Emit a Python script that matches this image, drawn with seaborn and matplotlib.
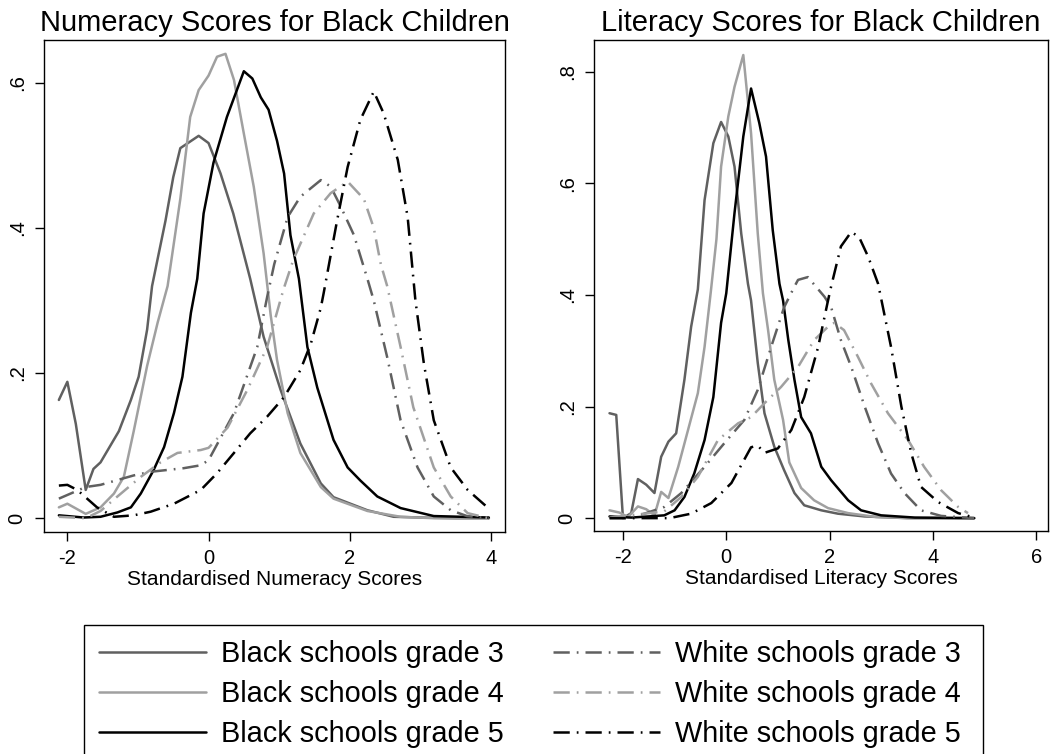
import pandas as pd
import matplotlib
matplotlib.use("Agg")
import matplotlib.pyplot as plt
from matplotlib.patches import Rectangle
import seaborn as sns

# ---- data (kernel density estimates) ----
series_labels = ["Black schools grade 3", "Black schools grade 4", "Black schools grade 5",
                 "White schools grade 3", "White schools grade 4", "White schools grade 5"]

# Numeracy
num_b3_x = [-2.12, -2.0, -1.88, -1.74, -1.63, -1.53, -1.27, -1.1, -0.99, -0.87, -0.8, -0.61, -0.5, -0.4,
            -0.14, 0.0, 0.17, 0.35, 0.59, 0.78, 1.02, 1.3, 1.59, 1.77, 2.25, 2.62, 3.0, 3.5, 3.97]
num_b3_y = [0.163, 0.188, 0.13, 0.039, 0.068, 0.077, 0.12, 0.163, 0.195, 0.26, 0.32, 0.41, 0.47, 0.51,
            0.527, 0.517, 0.475, 0.42, 0.33, 0.25, 0.177, 0.103, 0.048, 0.029, 0.011, 0.002, 0.001, 0.0, 0.0]
num_b4_x = [-2.12, -2.0, -1.74, -1.53, -1.34, -1.2, -1.06, -0.87, -0.72, -0.58, -0.4, -0.26, -0.14, 0.0,
            0.12, 0.24, 0.36, 0.5, 0.64, 0.78, 0.88, 0.97, 1.12, 1.3, 1.59, 1.77, 2.25, 2.72, 3.2, 3.97]
num_b4_y = [0.015, 0.02, 0.006, 0.015, 0.034, 0.057, 0.12, 0.21, 0.27, 0.32, 0.44, 0.553, 0.59, 0.61,
            0.636, 0.64, 0.604, 0.53, 0.457, 0.365, 0.28, 0.218, 0.145, 0.09, 0.043, 0.027, 0.01, 0.002, 0.0, 0.0]
num_b5_x = [-2.12, -1.77, -1.53, -1.29, -1.1, -0.96, -0.78, -0.63, -0.49, -0.37, -0.25, -0.16, -0.07, 0.07,
            0.26, 0.5, 0.62, 0.74, 0.85, 0.97, 1.07, 1.16, 1.28, 1.4, 1.54, 1.77, 1.97, 2.15, 2.39, 2.72, 3.19, 3.97]
num_b5_y = [0.004, 0.001, 0.002, 0.008, 0.015, 0.034, 0.066, 0.098, 0.145, 0.195, 0.283, 0.33, 0.42, 0.49,
            0.553, 0.616, 0.606, 0.58, 0.563, 0.52, 0.475, 0.39, 0.33, 0.236, 0.18, 0.108, 0.07, 0.052, 0.03, 0.014, 0.003, 0.001]
num_w3_x = [-2.12, -1.74, -1.53, -1.06, -0.82, -0.35, -0.11, 0.0, 0.36, 0.69, 0.83, 0.93, 1.12, 1.3,
            1.59, 1.73, 1.87, 2.06, 2.25, 2.34, 2.53, 2.72, 2.96, 3.19, 3.43, 3.66, 3.97]
num_w3_y = [0.027, 0.043, 0.046, 0.059, 0.064, 0.069, 0.073, 0.08, 0.145, 0.236, 0.305, 0.35, 0.415, 0.443,
            0.466, 0.457, 0.43, 0.39, 0.33, 0.3, 0.222, 0.135, 0.07, 0.03, 0.011, 0.003, 0.0]
num_w4_x = [-2.12, -1.74, -1.53, -1.29, -0.96, -0.68, -0.44, -0.11, 0.0, 0.27, 0.55, 0.83, 1.06, 1.2,
            1.49, 1.73, 1.97, 2.2, 2.34, 2.44, 2.53, 2.72, 2.9, 3.19, 3.43, 3.67, 3.97]
num_w4_y = [0.002, 0.0, 0.01, 0.03, 0.057, 0.077, 0.09, 0.094, 0.097, 0.125, 0.177, 0.236, 0.315, 0.356,
            0.42, 0.448, 0.464, 0.44, 0.4, 0.35, 0.32, 0.236, 0.153, 0.07, 0.03, 0.007, 0.0]
num_w5_x = [-2.12, -2.0, -1.86, -1.58, -1.34, -1.06, -0.82, -0.49, -0.11, 0.12, 0.36, 0.59, 0.83, 1.07,
            1.3, 1.45, 1.59, 1.63, 1.82, 1.97, 2.15, 2.34, 2.48, 2.68, 2.82, 2.93, 3.05, 3.19, 3.43, 3.67, 3.95]
num_w5_y = [0.045, 0.046, 0.039, 0.015, 0.002, 0.004, 0.009, 0.02, 0.039, 0.062, 0.09, 0.117, 0.14, 0.167,
            0.204, 0.241, 0.29, 0.31, 0.41, 0.484, 0.549, 0.588, 0.558, 0.494, 0.415, 0.3, 0.213, 0.135, 0.07, 0.039, 0.015]

# Literacy
lit_b3_x = [-2.26, -2.13, -2.0, -1.84, -1.71, -1.55, -1.39, -1.26, -1.12, -0.97, -0.81, -0.68, -0.55, -0.42,
            -0.25, -0.1, 0.04, 0.16, 0.29, 0.42, 0.48, 0.61, 0.74, 0.93, 1.12, 1.32, 1.51, 1.84, 2.16, 2.68, 3.5, 4.8]
lit_b3_y = [0.188, 0.185, 0.0, 0.009, 0.07, 0.06, 0.045, 0.11, 0.137, 0.152, 0.248, 0.343, 0.41, 0.57,
            0.672, 0.71, 0.684, 0.63, 0.51, 0.42, 0.39, 0.278, 0.188, 0.128, 0.086, 0.045, 0.023, 0.014, 0.008, 0.003, 0.0, 0.0]
lit_b4_x = [-2.26, -2.07, -1.9, -1.71, -1.55, -1.39, -1.26, -1.12, -0.93, -0.74, -0.55, -0.42, -0.3, -0.19,
            -0.1, 0.04, 0.16, 0.33, 0.48, 0.61, 0.71, 0.81, 0.93, 1.1, 1.22, 1.45, 1.7, 1.97, 2.36, 2.9, 3.6, 4.8]
lit_b4_y = [0.014, 0.01, 0.002, 0.021, 0.016, 0.005, 0.047, 0.036, 0.092, 0.158, 0.224, 0.307, 0.405, 0.5,
            0.63, 0.72, 0.773, 0.83, 0.69, 0.51, 0.403, 0.337, 0.248, 0.176, 0.1, 0.054, 0.032, 0.018, 0.009, 0.002, 0.0, 0.0]
lit_b5_x = [-2.26, -1.84, -1.2, -1.0, -0.81, -0.62, -0.42, -0.25, -0.1, 0.0, 0.16, 0.33, 0.48, 0.64,
            0.77, 0.9, 1.03, 1.1, 1.2, 1.32, 1.45, 1.64, 1.84, 2.03, 2.36, 2.61, 3.0, 3.65, 4.8]
lit_b5_y = [0.003, 0.001, 0.005, 0.014, 0.038, 0.08, 0.14, 0.217, 0.35, 0.403, 0.547, 0.684, 0.77, 0.708,
            0.648, 0.516, 0.42, 0.39, 0.32, 0.248, 0.181, 0.152, 0.092, 0.068, 0.032, 0.014, 0.005, 0.001, 0.0]
lit_w3_x = [-2.26, -1.84, -1.2, -0.87, -0.42, -0.04, 0.35, 0.61, 0.87, 1.12, 1.32, 1.39, 1.58, 1.9,
            2.03, 2.22, 2.42, 2.68, 2.94, 3.19, 3.45, 3.77, 4.16, 4.8]
lit_w3_y = [0.0, 0.0, 0.02, 0.045, 0.092, 0.134, 0.176, 0.23, 0.307, 0.378, 0.415, 0.427, 0.432, 0.397,
            0.378, 0.319, 0.271, 0.2, 0.134, 0.08, 0.045, 0.014, 0.004, 0.0]
lit_w4_x = [-2.26, -1.2, -0.87, -0.55, -0.16, 0.23, 0.48, 0.74, 1.06, 1.39, 1.7, 1.97, 2.09, 2.28,
            2.55, 2.8, 3.13, 3.52, 3.83, 4.16, 4.49, 4.68]
lit_w4_y = [0.001, 0.012, 0.038, 0.074, 0.14, 0.17, 0.181, 0.206, 0.235, 0.271, 0.319, 0.343, 0.35, 0.337,
            0.289, 0.242, 0.188, 0.14, 0.092, 0.05, 0.02, 0.009]
lit_w5_x = [-2.26, -1.1, -0.68, -0.29, 0.1, 0.48, 0.61, 0.74, 1.0, 1.26, 1.51, 1.78, 1.97, 2.03,
            2.22, 2.42, 2.57, 2.75, 2.94, 3.19, 3.39, 3.58, 3.77, 4.1, 4.49, 4.8]
lit_w5_y = [0.0, 0.0, 0.008, 0.027, 0.063, 0.127, 0.13, 0.117, 0.125, 0.158, 0.217, 0.307, 0.39, 0.415,
            0.487, 0.513, 0.504, 0.468, 0.42, 0.307, 0.2, 0.117, 0.056, 0.029, 0.009, 0.001]

num_xticks = [-2, 0, 2, 4]
num_yticks = [0, 0.2, 0.4, 0.6]
num_ytick_labels = ["0", ".2", ".4", ".6"]
lit_xticks = [-2, 0, 2, 4, 6]
lit_yticks = [0, 0.2, 0.4, 0.6, 0.8]
lit_ytick_labels = ["0", ".2", ".4", ".6", ".8"]

# ---- styling ----
sns.set_style("ticks")
plt.rcParams["font.family"] = ["Liberation Sans", "DejaVu Sans"]
plt.rcParams.update({"text.color": "black", "axes.labelcolor": "black",
                     "xtick.color": "black", "ytick.color": "black"})

colors = ["#606060", "#a0a0a0", "#000000"] * 2
solid = "-"
dashdot = (0, (6.5, 2.8, 0.7, 2.8))
styles = [solid] * 3 + [dashdot] * 3
LW = 1.8


def draw_panel(ax, xs, ys, title, xlabel, xticks, yticks, ylabels, xlim, ylim):
    for x, y, c, ls in zip(xs, ys, colors, styles):
        df = pd.DataFrame({"score": x, "density": y})
        sns.lineplot(data=df, x="score", y="density", ax=ax, color=c,
                     linewidth=LW, linestyle=ls, legend=False)
    ax.set_xlim(*xlim)
    ax.set_ylim(*ylim)
    ax.set_xticks(xticks, labels=[str(t) for t in xticks])
    ax.set_yticks(yticks, labels=ylabels)
    ax.tick_params(axis="both", labelsize=14.5, length=6.5, width=1.0, color="black",
                   labelcolor="black", pad=6)
    ax.tick_params(axis="y", labelrotation=90)
    for lab in ax.get_yticklabels():
        lab.set_va("center")
    ax.set_title(title, fontsize=21, pad=6.5, color="black")
    ax.set_xlabel(xlabel, fontsize=15, labelpad=1, color="black")
    ax.set_ylabel("")
    for sp in ax.spines.values():
        sp.set_visible(True)
        sp.set_color("black")
        sp.set_linewidth(1.0)


fig = plt.figure(figsize=(10.64, 7.54), dpi=100)
ax1 = fig.add_axes([0.0414, 0.2944, 0.4333, 0.6525])
ax2 = fig.add_axes([0.5583, 0.2958, 0.4267, 0.6512])

draw_panel(ax1,
           [num_b3_x, num_b4_x, num_b5_x, num_w3_x, num_w4_x, num_w5_x],
           [num_b3_y, num_b4_y, num_b5_y, num_w3_y, num_w4_y, num_w5_y],
           "Numeracy Scores for Black Children", "Standardised Numeracy Scores",
           num_xticks, num_yticks, num_ytick_labels, (-2.33, 4.2), (-0.019, 0.659))
draw_panel(ax2,
           [lit_b3_x, lit_b4_x, lit_b5_x, lit_w3_x, lit_w4_x, lit_w5_x],
           [lit_b3_y, lit_b4_y, lit_b5_y, lit_w3_y, lit_w4_y, lit_w5_y],
           "Literacy Scores for Black Children", "Standardised Literacy Scores",
           lit_xticks, lit_yticks, lit_ytick_labels, (-2.56, 6.23), (-0.023, 0.857))

# legend box (Stata-style, runs off the bottom of the canvas)
W, H = 1064, 754
fig.patches.append(Rectangle((84 / W, -0.05), (983 - 84) / W, (H - 625) / H + 0.05,
                             transform=fig.transFigure, fill=False,
                             edgecolor="black", linewidth=1.0))

handles = ax1.get_lines()[:6]
leg = fig.legend(handles, series_labels, ncol=2, loc="upper left",
                 bbox_to_anchor=(84 / W, 1 - 625 / H), borderaxespad=0,
                 fontsize=20.8, frameon=False, handlelength=3.7, handletextpad=0.52,
                 columnspacing=1.72, labelspacing=0.42, borderpad=0.52)
for t in leg.get_texts():
    t.set_color("black")

fig.savefig("out.png", dpi=100)
plt.close(fig)
